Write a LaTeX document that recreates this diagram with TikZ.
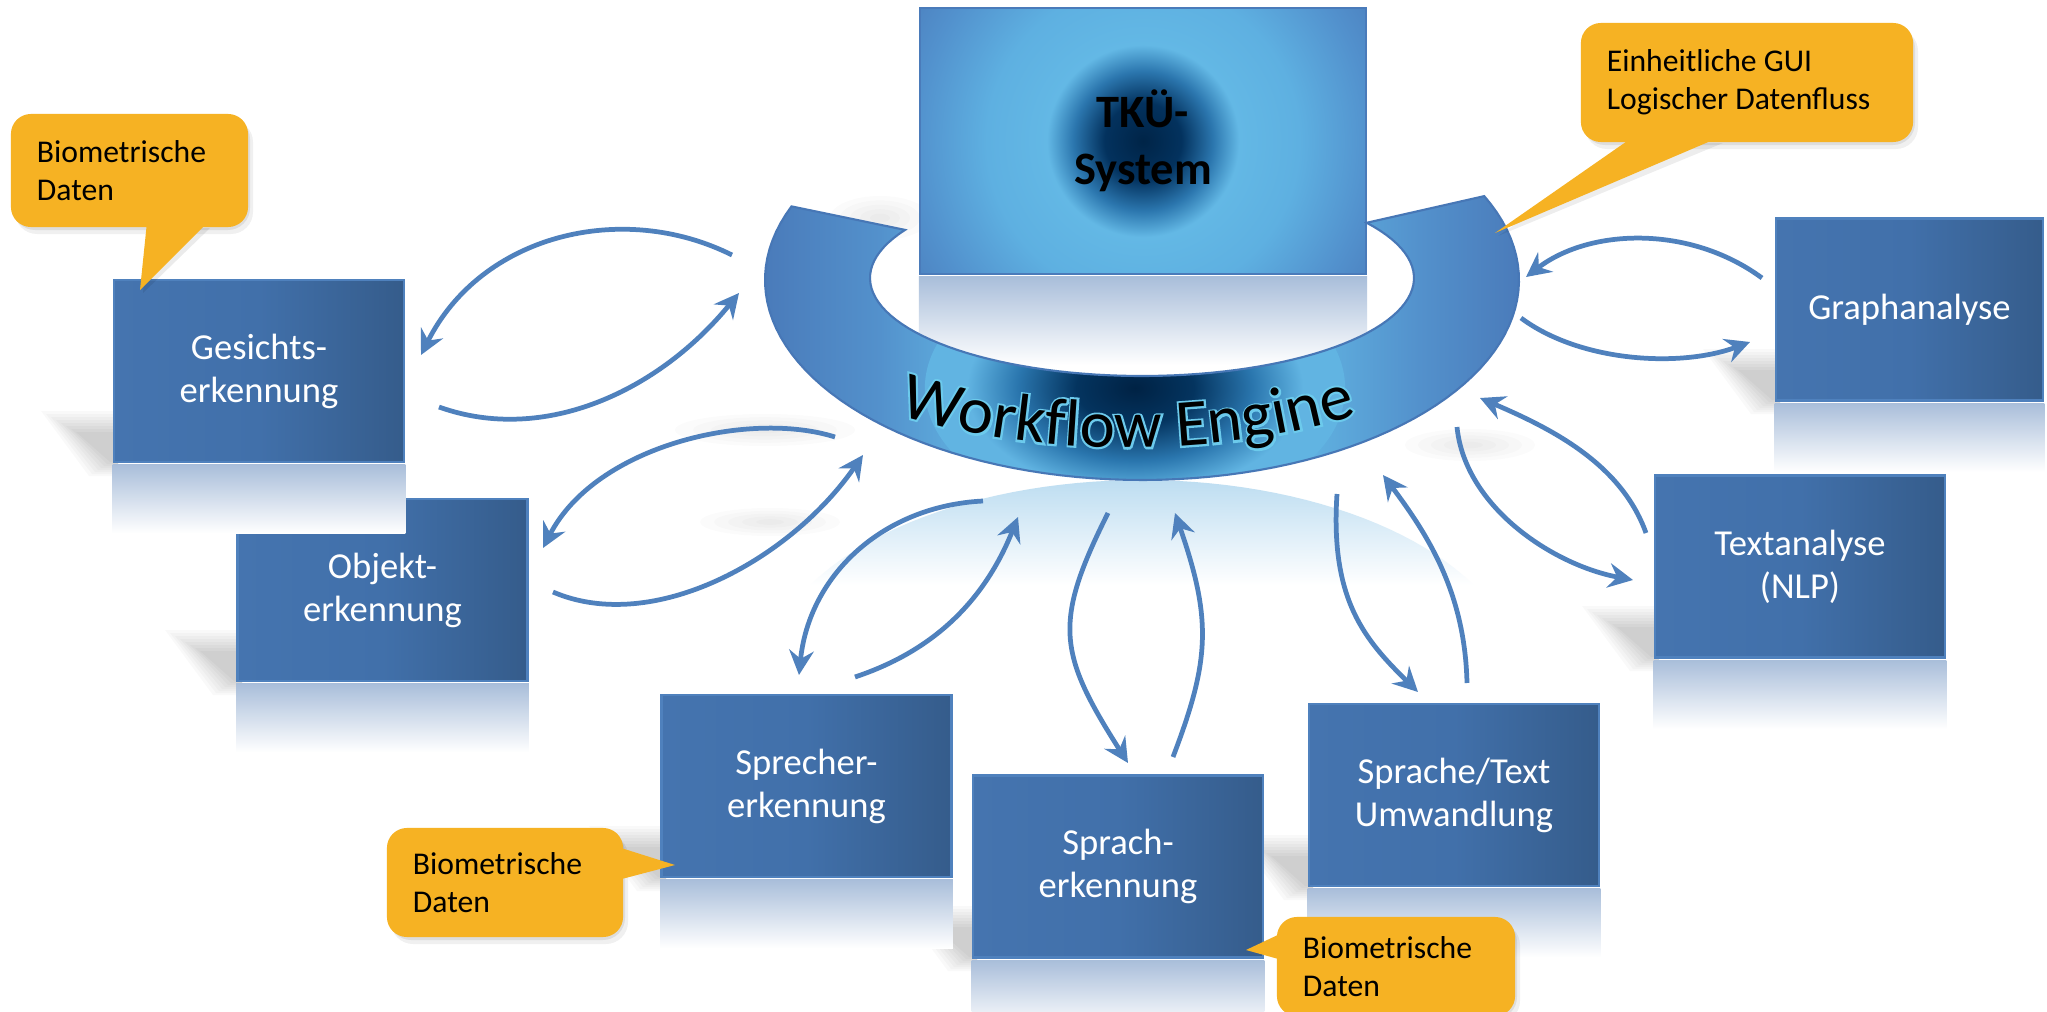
\documentclass[tikz,border=0pt]{standalone}
\usepackage{fontspec}
\setmainfont{Carlito}
\newfontfamily\wfeglowfamily{Carlito}[FakeBold=6]
\usetikzlibrary{arrows.meta,decorations.text}

\definecolor{arrowblue}{HTML}{4F81BD}
\definecolor{boxL}{HTML}{4574AF}
\definecolor{boxM}{HTML}{4170AA}
\definecolor{boxR}{HTML}{355C8B}
\definecolor{boxedge}{HTML}{4F81BD}
\definecolor{calloutfill}{HTML}{F6B223}
\definecolor{reflTop}{HTML}{A9BEDA}
\definecolor{ringreflTop}{HTML}{BDDDF1}
\definecolor{ringedge}{HTML}{4A7BBA}
\definecolor{ringmid}{HTML}{5391CC}
\definecolor{ringlight}{HTML}{61B4E2}
\definecolor{ringline}{HTML}{4777B6}
\definecolor{tkuA}{HTML}{002447}
\definecolor{tkuB}{HTML}{03325E}
\definecolor{tkuC}{HTML}{2B76AE}
\definecolor{tkuD}{HTML}{63B8E5}
\definecolor{tkuE}{HTML}{5EB0E1}
\definecolor{tkuF}{HTML}{5291CD}
\definecolor{spotA}{HTML}{002244}
\definecolor{spotB}{HTML}{04345F}
\definecolor{spotC}{HTML}{2A76AE}
\definecolor{glow}{HTML}{6CCAEC}

\pgfdeclarehorizontalshading{ringbase}{100bp}{color(0bp)=(ringedge); color(25bp)=(ringedge); color(32.6bp)=(ringmid); color(39.2bp)=(ringlight); color(60.4bp)=(ringlight); color(68.4bp)=(ringmid); color(75bp)=(ringedge); color(100bp)=(ringedge)}
\pgfdeclareradialshading{tkuspot}{\pgfpointorigin}{color(0bp)=(tkuA); color(3.2bp)=(tkuB); color(5.8bp)=(tkuC); color(8.0bp)=(tkuD); color(13bp)=(tkuE); color(19bp)=(tkuF); color(24bp)=(ringedge); color(50bp)=(ringedge)}
\pgfdeclareradialshading{wfspot}{\pgfpointorigin}{color(0bp)=(spotA); color(7bp)=(spotB); color(14bp)=(spotC); color(20bp)=(ringlight); color(25bp)=(ringlight); color(50bp)=(ringlight)}

\newcommand\boxfont{\fontsize{10.4}{12.2}\selectfont}
\newcommand\calloutfont{\fontsize{9}{10.8}\selectfont}
\newcommand\tkufont{\fontsize{13.2}{16.2}\selectfont\bfseries}
\newcommand\wfefont{\fontsize{19}{22}\selectfont}

\newcommand\boxshadow[2]{%
  \foreach \k in {0,...,7}{%
    \fill[black, opacity=0.022] ({#1-38-\k*5},{#2-30-\k*3}) -- ({#1+4},{#2-30-\k*3})
      -- ({#1+4},{#2+\k*2}) -- ({#1-4-\k*3},{#2+\k*2}) -- cycle;
  }}
\newcommand\haze[4]{%
  \foreach \k in {1,...,5}{%
    \fill[black, opacity=0.015] (#1,#2) ellipse[x radius={#3*\k*0.002cm}, y radius={#4*\k*0.002cm}];
  }}
\newcommand\cshadow[4]{%
  \fill[black,opacity=0.08,rounded corners=0.22cm] ({#1+2},{#2+3}) rectangle ({#3+2},{#4+3});
  \fill[black,opacity=0.06,rounded corners=0.22cm] ({#1+4},{#2+6}) rectangle ({#3+5},{#4+7});
}

\tikzset{
  modbox/.style={rectangle, draw=boxedge, line width=0.7pt, left color=boxL, right color=boxR,
    middle color=boxM, minimum width=2.9cm, minimum height=1.82cm, inner sep=0pt,
    text=white, font=\boxfont, align=center},
  callout/.style={rectangle, rounded corners=0.2cm, fill=calloutfill, inner xsep=0.26cm,
    inner ysep=0pt, align=flush left, font=\calloutfont, text=black},
  flow/.style={draw=arrowblue, line width=1.35pt, -{Stealth[length=7pt,width=7pt,inset=2.4pt]}},
  reflect/.style={top color=reflTop, bottom color=white, draw=none},
}

\begin{document}
\begin{tikzpicture}[x=0.01cm, y=-0.01cm]
\useasboundingbox (0,0) rectangle (2047,1012);
\fill[white] (0,0) rectangle (2047,1012);

% ---------- shadows ----------
\boxshadow{114}{462}
\boxshadow{238}{681}
\boxshadow{662}{877}
\boxshadow{973}{957}
\boxshadow{1309}{886}
\boxshadow{1655}{657}
\boxshadow{1776}{400}
\haze{880}{218}{50}{22}
\haze{765}{430}{90}{16}
\haze{770}{522}{70}{14}
\haze{1470}{445}{65}{16}

% ---------- TKÜ system ----------
\node[draw=ringedge, line width=0.6pt, minimum width=4.46cm, minimum height=2.66cm, inner sep=0pt,
  font=\tkufont, align=center,
  path picture={\shade[shading=tkuspot] (path picture bounding box.center) circle[radius=3cm];}]
  (tku) at (1143,141) {TKÜ-\\System};
\shade[reflect] ([yshift=-0.4pt]tku.south west) rectangle ([yshift=-0.9cm]tku.south east);

% ---------- ring reflection ----------
\begin{scope}
  \clip plot[domain=-201.6:24.8, samples=90] ({1142+377*cos(-\x)},{680-200*sin(-\x)})
     -- plot[domain=-34.3:209.4, samples=90] ({1142+272*cos(\x)},{682-98*sin(\x)}) -- cycle;
  \shade[top color=ringreflTop, bottom color=white] (760,480) rectangle (1530,585);
\end{scope}

% ---------- Workflow Engine ring ----------
\coordinate (wfe) at (1142,430);
\shade[shading=ringbase] plot[domain=-201.6:24.8, samples=90] ({1142+377*cos(-\x)},{280+200*sin(-\x)})
   -- plot[domain=-34.3:209.4, samples=90] ({1142+272*cos(\x)},{278+98*sin(\x)}) -- cycle;
\begin{scope}
  \clip plot[domain=-201.6:24.8, samples=90] ({1142+377*cos(-\x)},{280+200*sin(-\x)})
   -- plot[domain=-34.3:209.4, samples=90] ({1142+272*cos(\x)},{278+98*sin(\x)}) -- cycle;
  \shade[shading=wfspot] (1135,388) ellipse[x radius=2.1cm, y radius=1.3cm];
\end{scope}
\draw[ringline, line width=0.6pt] plot[domain=-201.6:24.8, samples=90] ({1142+377*cos(-\x)},{280+200*sin(-\x)})
   -- plot[domain=-34.3:209.4, samples=90] ({1142+272*cos(\x)},{278+98*sin(\x)}) -- cycle;

\path[decorate, decoration={text along path,
     text={|\wfeglowfamily\wfefont\color{glow}|Workflow Engine}, text align=center}]
     (885,410) .. controls (1030,460) and (1230,460) .. (1370,410);
\path[decorate, decoration={text along path,
     text={|\wfefont\color{black}|Workflow Engine}, text align=center}]
     (885,410) .. controls (1030,460) and (1230,460) .. (1370,410);

% ---------- modules ----------
\node[modbox] (gesicht) at (259,371) {Gesichts-\\erkennung};
\node[modbox] (objekt) at (382.5,590) {Objekt-\\erkennung};
\node[modbox] (sprecher) at (806.5,786) {Sprecher-\\erkennung};
\node[modbox] (sprach) at (1118,866.5) {Sprach-\\erkennung};
\node[modbox] (sptext) at (1454,795) {Sprache/Text\\Umwandlung};
\node[modbox] (textana) at (1800,566.5) {Textanalyse\\(NLP)};
\node[modbox, minimum width=2.67cm] (graph) at (1909.5,309.5) {Graphanalyse};

\foreach \n in {gesicht,objekt,sprecher,sprach,sptext,textana,graph}{
  \shade[reflect] ([yshift=-0.4pt]\n.south west) rectangle ([yshift=-0.7cm]\n.south east);
}

% ---------- arrows ----------
\coordinate (g1s) at (732,255);  \coordinate (g1e) at (421,355);
\coordinate (g2s) at (439,407);  \coordinate (g2e) at (739,293);
\coordinate (o1s) at (835,437);  \coordinate (o1e) at (543,548);
\coordinate (o2s) at (553,592);  \coordinate (o2e) at (863,455);
\coordinate (s1s) at (983,501);  \coordinate (s1e) at (799,675);
\coordinate (s2s) at (855,677);  \coordinate (s2e) at (1018,517);
\coordinate (p1s) at (1108,513); \coordinate (p1e) at (1128,763);
\coordinate (p2s) at (1173,757); \coordinate (p2e) at (1175,513);
\coordinate (t1s) at (1337,494); \coordinate (t1e) at (1418,692);
\coordinate (t2s) at (1467,683); \coordinate (t2e) at (1383,475);
\coordinate (x1s) at (1457,427); \coordinate (x1e) at (1633,580);
\coordinate (x2s) at (1646,533); \coordinate (x2e) at (1480,398);
\coordinate (r1s) at (1762,278); \coordinate (r1e) at (1526,277);
\coordinate (r2s) at (1521,318); \coordinate (r2e) at (1750,342);

\draw[flow] (g1s) .. controls (622,200) and (481,235) .. (g1e);
\draw[flow] (g2s) .. controls (545,445) and (660,390) .. (g2e);
\draw[flow] (o1s) .. controls (750,410) and (596,445) .. (o1e);
\draw[flow] (o2s) .. controls (653,635) and (790,560) .. (o2e);
\draw[flow] (s1s) .. controls (883,506) and (809,575) .. (s1e);
\draw[flow] (s2s) .. controls (915,657) and (978,617) .. (s2e);
\draw[flow] (p1s) .. controls (1053,623) and (1058,653) .. (p1e);
\draw[flow] (p2s) .. controls (1210,660) and (1212,620) .. (p2e);
\draw[flow] (t1s) .. controls (1330,600) and (1365,640) .. (t1e);
\draw[flow] (t2s) .. controls (1465,593) and (1428,535) .. (t2e);
\draw[flow] (x1s) .. controls (1465,507) and (1553,565) .. (x1e);
\draw[flow] (x2s) .. controls (1621,463) and (1550,428) .. (x2e);
\draw[flow] (r1s) .. controls (1690,225) and (1590,228) .. (r1e);
\draw[flow] (r2s) .. controls (1580,362) and (1680,368) .. (r2e);

% ---------- callouts ----------
\cshadow{11}{114}{248}{227}
\fill[black,opacity=0.08] (149,228) -- (210,228) -- (143,293) -- cycle;
\node[callout, minimum width=2.37cm, minimum height=1.13cm, text width=1.85cm] (cTL) at (129.5,170.5) {Biometrische\\Daten};
\coordinate (cTLtip) at (140,290);
\fill[calloutfill] (147,222) -- (208,222) -- (cTLtip) -- cycle;

\cshadow{1581}{23}{1913}{142}
\fill[black,opacity=0.07] (1636,143) -- (1723,143) -- (1498,236) -- cycle;
\node[callout, minimum width=3.32cm, minimum height=1.19cm, text width=2.80cm] (cTR) at (1747,82.5) {Einheitliche GUI\\Logischer Datenfluss};
\coordinate (cTRtip) at (1495,233);
\fill[calloutfill] (1633,137) -- (1720,137) -- (cTRtip) -- cycle;

\cshadow{387}{828}{623}{937}
\node[callout, minimum width=2.36cm, minimum height=1.09cm, text width=1.84cm] (cSp) at (505,882.5) {Biometrische\\Daten};
\coordinate (cSptip) at (675,865);
\fill[calloutfill] (618,847) -- (618,880) -- (cSptip) -- cycle;

\cshadow{1277}{917}{1515}{1016}
\node[callout, minimum width=2.38cm, minimum height=0.99cm, text width=1.86cm] (cSr) at (1396,966.5) {Biometrische\\Daten};
\coordinate (cSrtip) at (1246,950);
\fill[calloutfill] (1282,933) -- (1282,960) -- (cSrtip) -- cycle;

\end{tikzpicture}
\end{document}
